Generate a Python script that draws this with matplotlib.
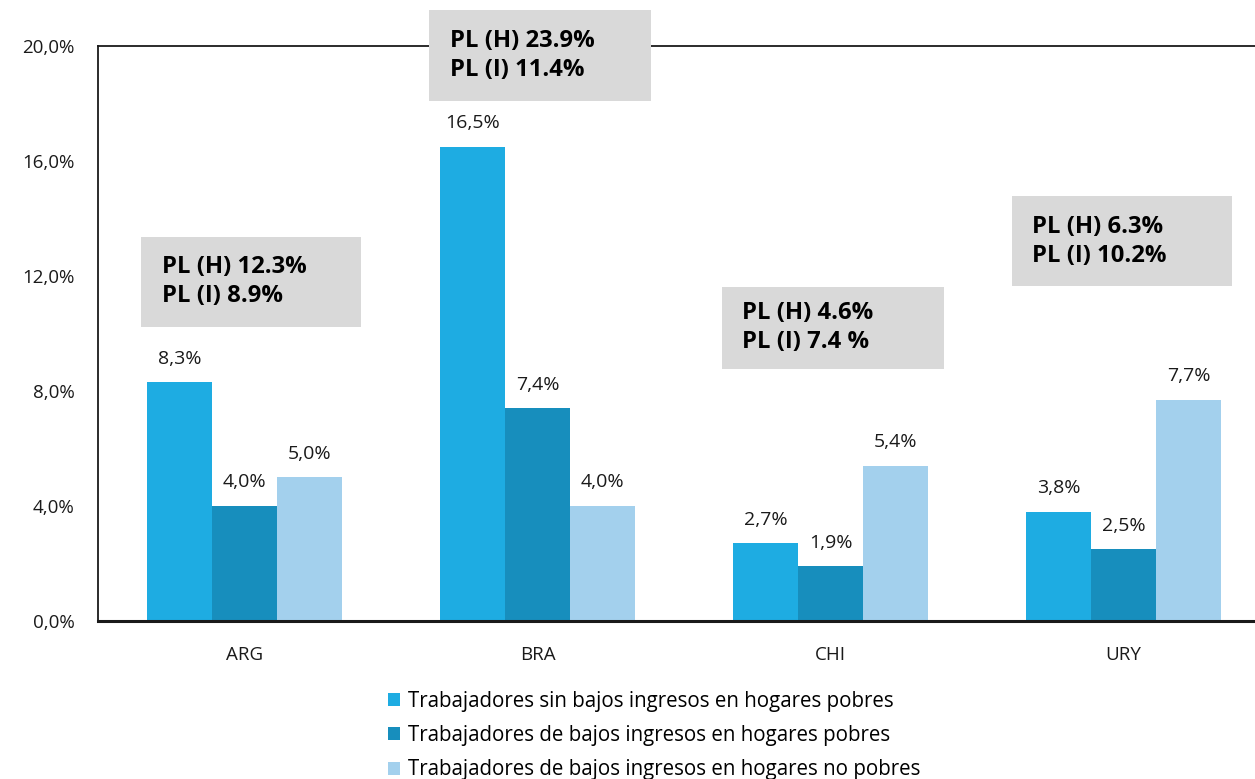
import matplotlib.pyplot as plt
from matplotlib.patches import Rectangle
import numpy as np

countries = ["ARG", "BRA", "CHI", "URY"]
sin_bajos_pobres = [8.3, 16.5, 2.7, 3.8]
bajos_pobres = [4.0, 7.4, 1.9, 2.5]
bajos_no_pobres = [5.0, 4.0, 5.4, 7.7]
series_names = [
    "Trabajadores sin bajos ingresos en hogares pobres",
    "Trabajadores de bajos ingresos en hogares pobres",
    "Trabajadores de bajos ingresos en hogares no pobres",
]
pl_notes = [
    "PL (H) 12.3%\nPL (I) 8.9%",
    "PL (H) 23.9%\nPL (I) 11.4%",
    "PL (H) 4.6%\nPL (I) 7.4 %",
    "PL (H) 6.3%\nPL (I) 10.2%",
]
yticks = [0, 4, 8, 12, 16, 20]

C1, C2, C3 = "#1eace2", "#178ebd", "#a3d0ed"
BOX = "#d9d9d9"

plt.rcParams["font.family"] = ["Open Sans", "DejaVu Sans"]

fig = plt.figure(figsize=(12.55, 7.79), dpi=100)
ax = fig.add_axes([98 / 1255, 1 - 621 / 779, 1172 / 1255, 575 / 779])

x = np.arange(len(countries))
w = 0.222
series = [sin_bajos_pobres, bajos_pobres, bajos_no_pobres]
colors = [C1, C2, C3]
for i, (vals, col, name) in enumerate(zip(series, colors, series_names)):
    bars = ax.bar(x + (i - 1) * w, vals, width=w, color=col, label=name, zorder=2)
    for b, v in zip(bars, vals):
        ax.annotate(f"{v:.1f}%".replace(".", ","), (b.get_x() + b.get_width() / 2, v),
                    xytext=(0, 10.5), textcoords="offset points", ha="center", va="bottom",
                    fontsize=14, color="#1a1a1a")

ax.set_xlim(-0.5, 3.5)
ax.set_ylim(0, 20)
ax.set_xticks(x, countries)
ax.set_yticks(yticks, [f"{t:.1f}%".replace(".", ",") for t in yticks])
ax.tick_params(axis="both", length=0, labelsize=13.5, colors="#1a1a1a")
ax.tick_params(axis="x", pad=18)
ax.tick_params(axis="y", pad=17)
for s in ["left", "top"]:
    ax.spines[s].set_linewidth(1.3)
    ax.spines[s].set_color("#1a1a1a")
ax.spines["bottom"].set_linewidth(2.2)
ax.spines["bottom"].set_color("#1a1a1a")
ax.spines["right"].set_visible(False)

# grey note boxes: (x0, x1, y0, y1) in data units
box_pos = [(-0.352, 0.396, 10.23, 13.36), (0.631, 1.386, 18.09, 21.25),
           (1.628, 2.386, 8.77, 11.62), (2.618, 3.369, 11.65, 14.78)]
for (x0, x1, y0, y1), note in zip(box_pos, pl_notes):
    ax.add_patch(Rectangle((x0, y0), x1 - x0, y1 - y0, facecolor=BOX, edgecolor="none",
                           clip_on=False, zorder=4))
    ax.text(x0 + 0.07, (y0 + y1) / 2, note, ha="left", va="center", fontsize=17.2,
            fontweight="bold", linespacing=1.28, zorder=5, clip_on=False)

ax.legend(loc="upper left", bbox_to_anchor=(388 / 1255, 1 - 691 / 779),
          bbox_transform=fig.transFigure, frameon=False, fontsize=14.8,
          handlelength=0.6, handleheight=0.6, handletextpad=0.35, labelspacing=0.64,
          borderaxespad=0, borderpad=0)

fig.savefig("out.png", dpi=100, facecolor="white")
